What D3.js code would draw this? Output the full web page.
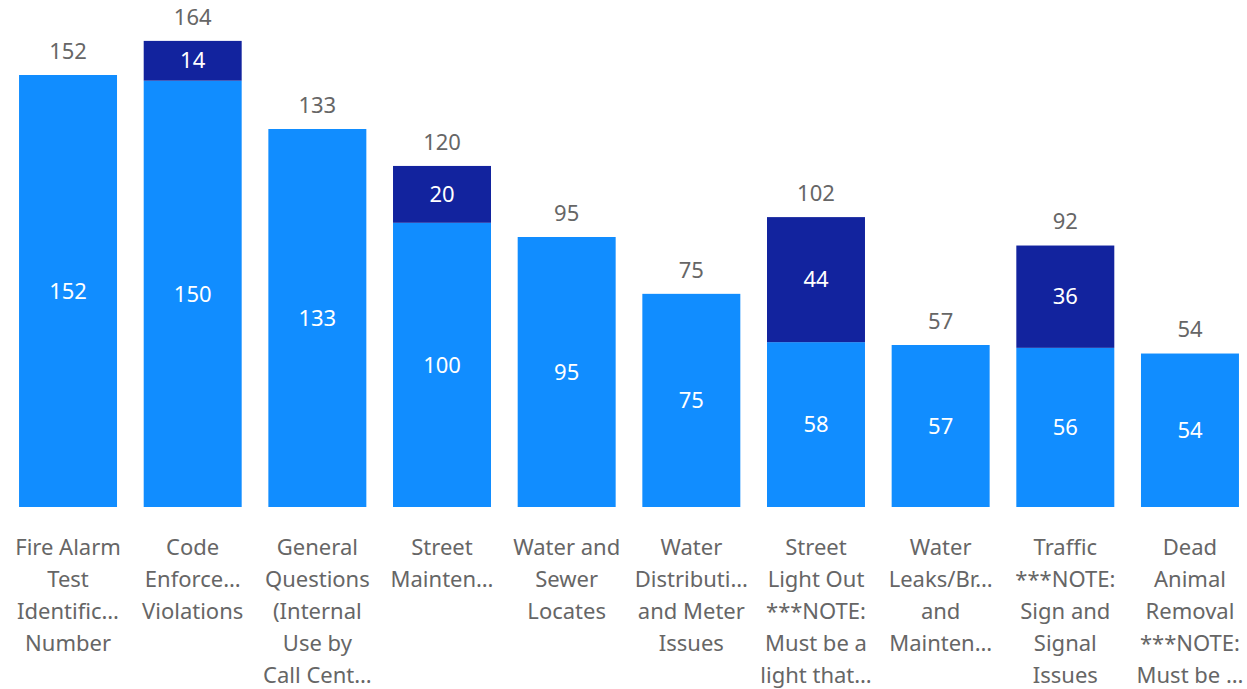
<!DOCTYPE html>
<html>
<head>
<meta charset="utf-8">
<script src="https://cdn.jsdelivr.net/npm/d3@7"></script>
<style>
  html, body { margin: 0; padding: 0; background: #fff; }
  svg text { font-family: "Segoe UI", "Noto Sans", "Open Sans", sans-serif; }
</style>
</head>
<body>
<svg id="chart" width="1247" height="689"></svg>
<script>
// categories, as the wrapped (and truncated) lines shown under each bar
var categories = [
  ["Fire Alarm", "Test", "Identific…", "Number"],
  ["Code", "Enforce…", "Violations"],
  ["General", "Questions", "(Internal", "Use by", "Call Cent…"],
  ["Street", "Mainten…"],
  ["Water and", "Sewer", "Locates"],
  ["Water", "Distributi…", "and Meter", "Issues"],
  ["Street", "Light Out", "***NOTE:", "Must be a", "light that…"],
  ["Water", "Leaks/Br…", "and", "Mainten…"],
  ["Traffic", "***NOTE:", "Sign and", "Signal", "Issues"],
  ["Dead", "Animal", "Removal", "***NOTE:", "Must be …"]
];
// lower series (light blue) and upper series (dark blue); 0 = no segment
var baseValues  = [152, 150, 133, 100, 95, 75, 58, 57, 56, 54];
var extraValues = [0, 14, 0, 20, 0, 0, 44, 0, 36, 0];
var seriesColors = ["#118DFF", "#12239E"];

var svg = d3.select("#chart");
var baseline = 507;
var fontSize = 22;

var ids = categories.map(function(d, i) { return "c" + i; });

var x = d3.scaleBand()
  .domain(ids)
  .range([5.7, 1252.3])
  .paddingInner(0.214)
  .paddingOuter(0.107);

// 152 units -> 432 px
var y = d3.scaleLinear().domain([0, 152]).range([baseline, 75]);

var stackData = ids.map(function(id, i) {
  return { id: id, base: baseValues[i], extra: extraValues[i] };
});
var stacked = d3.stack().keys(["base", "extra"])(stackData);

var layers = svg.selectAll("g.layer")
  .data(stacked)
  .enter().append("g")
  .attr("class", "layer")
  .attr("fill", function(d, i) { return seriesColors[i]; });

layers.selectAll("rect")
  .data(function(d) { return d.filter(function(s) { return s[1] > s[0]; }); })
  .enter().append("rect")
  .attr("x", function(d) { return x(d.data.id); })
  .attr("width", x.bandwidth())
  .attr("y", function(d) { return y(d[1]); })
  .attr("height", function(d) { return y(d[0]) - y(d[1]); });

// value labels inside segments
layers.selectAll("text")
  .data(function(d) { return d.filter(function(s) { return s[1] > s[0]; }); })
  .enter().append("text")
  .attr("x", function(d) { return x(d.data.id) + x.bandwidth() / 2; })
  .attr("y", function(d) { return (y(d[0]) + y(d[1])) / 2; })
  .attr("dy", "0.35em")
  .attr("text-anchor", "middle")
  .attr("fill", "#fff")
  .attr("font-size", fontSize)
  .text(function(d) { return d[1] - d[0]; });

// totals above bars
svg.append("g").selectAll("text")
  .data(stackData)
  .enter().append("text")
  .attr("x", function(d) { return x(d.id) + x.bandwidth() / 2; })
  .attr("y", function(d) { return y(d.base + d.extra) - 24; })
  .attr("dy", "0.35em")
  .attr("text-anchor", "middle")
  .attr("fill", "#666666")
  .attr("font-size", fontSize)
  .text(function(d) { return d.base + d.extra; });

// category axis, no line or ticks, wrapped labels
var axis = svg.append("g")
  .attr("transform", "translate(0," + baseline + ")")
  .call(d3.axisBottom(x).tickSize(0).tickFormat(""));
axis.select(".domain").remove();

axis.selectAll(".tick").each(function(id, i) {
  var t = d3.select(this).select("text")
    .attr("fill", "#666666")
    .attr("font-size", fontSize)
    .attr("y", 0)
    .attr("dy", null);
  categories[i].forEach(function(line, j) {
    t.append("tspan")
      .attr("x", 0)
      .attr("y", 48 + j * 32)
      .text(line);
  });
});
</script>
</body>
</html>
